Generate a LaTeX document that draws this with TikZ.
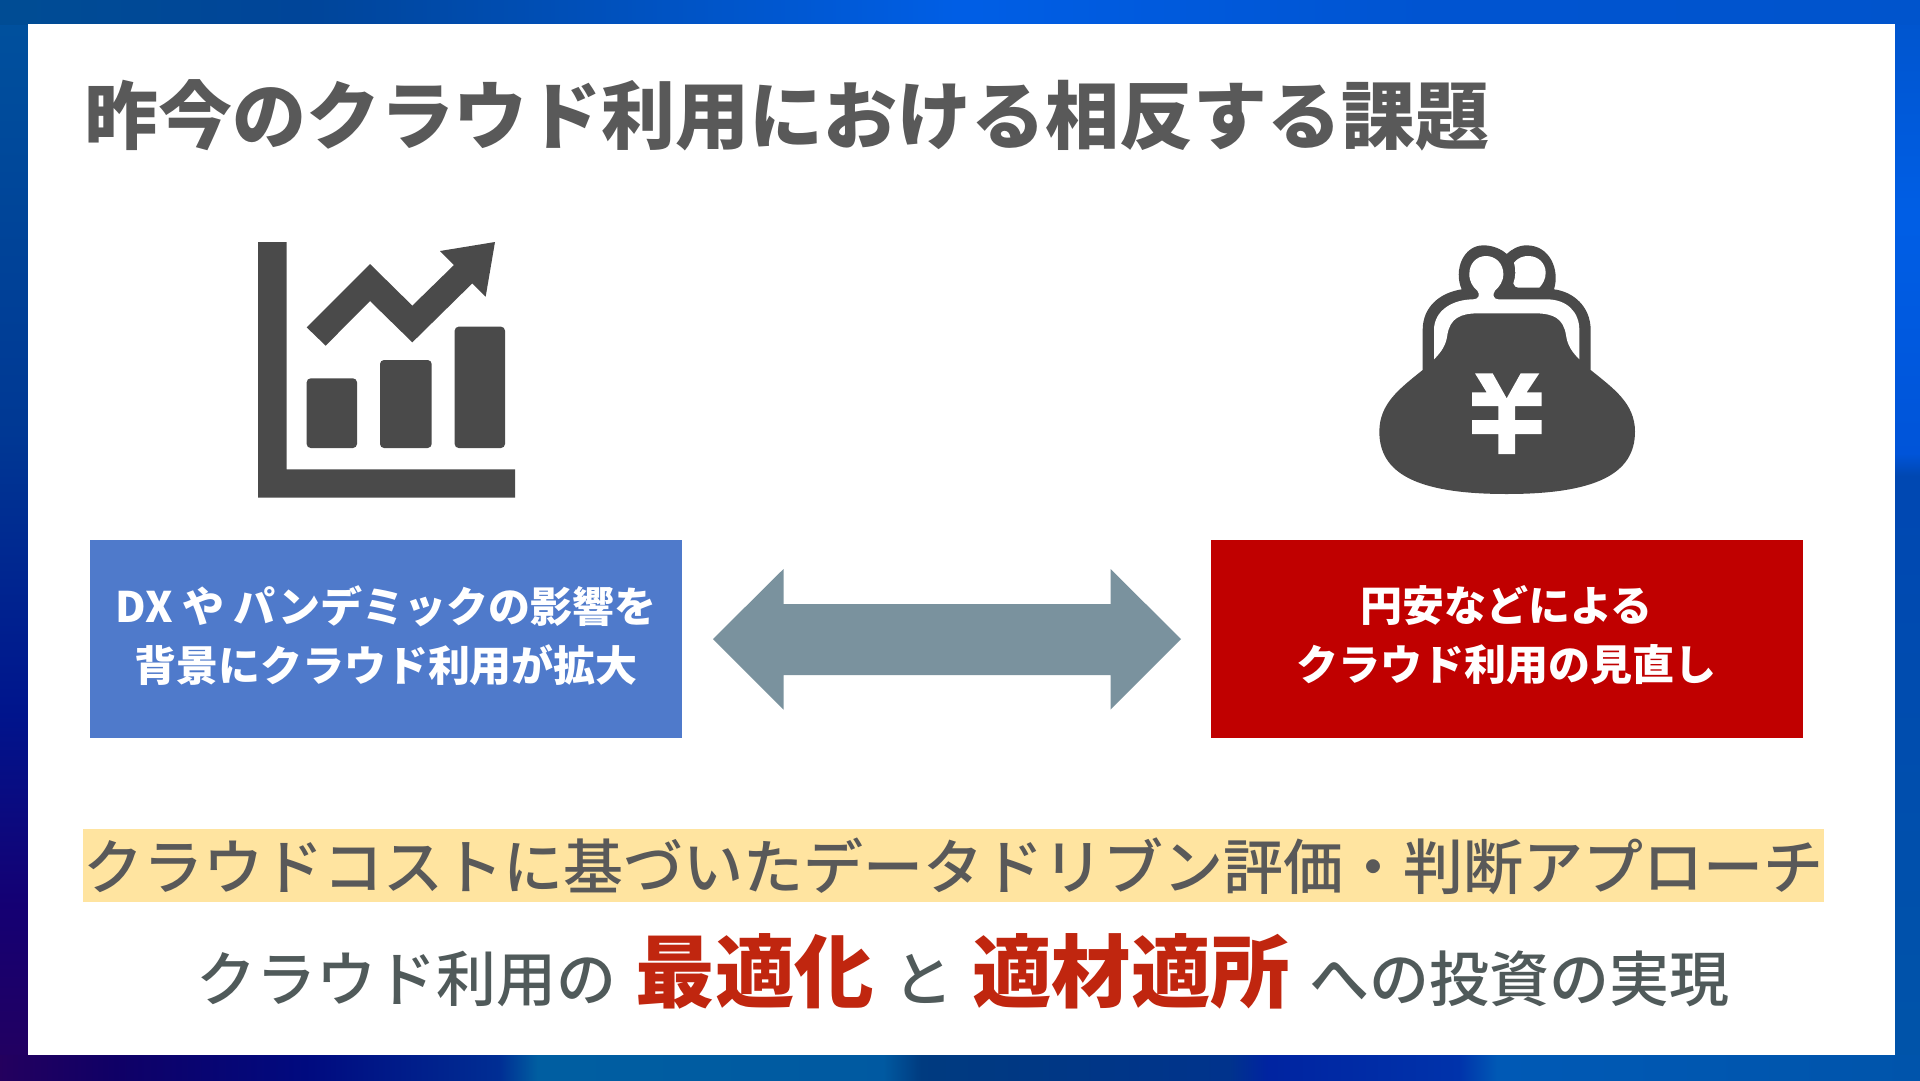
\documentclass[tikz,border=0pt]{standalone}
\usepackage{fontspec}
\setmainfont{Noto Sans CJK JP}
\newfontfamily\medfont{Noto Sans CJK JP Medium}
\definecolor{ink}{HTML}{4A4A4A}
\definecolor{titlegray}{HTML}{595959}
\definecolor{linegray}{HTML}{505A5A}
\definecolor{hotred}{HTML}{C0260F}
\definecolor{boxblue}{HTML}{4F7ACB}
\definecolor{boxred}{HTML}{C00000}
\definecolor{arrowgray}{HTML}{7A929E}
\definecolor{band}{HTML}{FFE4A0}
\pgfdeclarehorizontalshading{topstrip}{100bp}{
 rgb(0bp)=(0,0.30,0.58);
 rgb(25bp)=(0,0.30,0.58);
 rgb(33bp)=(0,0.27,0.60);
 rgb(50bp)=(0,0.37,0.90);
 rgb(62bp)=(0,0.33,0.82);
 rgb(75bp)=(0,0.33,0.80);
 rgb(100bp)=(0,0.33,0.80)}
\pgfdeclarehorizontalshading{botstrip}{100bp}{
 rgb(0bp)=(0.14,0,0.37);
 rgb(25bp)=(0.14,0,0.37);
 rgb(28bp)=(0.06,0,0.40);
 rgb(33bp)=(0,0.04,0.50);
 rgb(38bp)=(0,0.18,0.58);
 rgb(39bp)=(0,0.37,0.63);
 rgb(48bp)=(0,0.35,0.63);
 rgb(49bp)=(0,0.23,0.50);
 rgb(57bp)=(0,0.20,0.55);
 rgb(58bp)=(0,0.14,0.63);
 rgb(63bp)=(0,0.20,0.67);
 rgb(64bp)=(0,0.35,0.71);
 rgb(75bp)=(0,0.33,0.67);
 rgb(100bp)=(0,0.33,0.67)}
\pgfdeclareverticalshading{leftstrip}{100bp}{
 rgb(0bp)=(0.14,0,0.37);
 rgb(25bp)=(0.14,0,0.37);
 rgb(33bp)=(0.08,0,0.45);
 rgb(42bp)=(0,0.08,0.55);
 rgb(55bp)=(0,0.22,0.58);
 rgb(75bp)=(0,0.32,0.62);
 rgb(100bp)=(0,0.32,0.62)}
\pgfdeclareverticalshading{rightstrip}{100bp}{
 rgb(0bp)=(0,0.33,0.66);
 rgb(25bp)=(0,0.33,0.66);
 rgb(53bp)=(0,0.28,0.70);
 rgb(54bp)=(0,0.33,0.85);
 rgb(65bp)=(0,0.37,0.90);
 rgb(75bp)=(0,0.33,0.80);
 rgb(100bp)=(0,0.33,0.80)}
\tikzset{
 x=1pt,y=-1pt,
 icon/.style={fill=ink,draw=none},
 hole/.style={fill=white,draw=none},
 labelbox/.style={minimum width=592pt,minimum height=198pt,inner sep=0pt,text=white,align=center},
 boxtext/.style={inner sep=0pt,text=white,align=center,font=\fontsize{42}{59}\selectfont\bfseries},
 txt/.style={inner sep=0pt,anchor=center},
 zoomicon/.style={shift={#1},scale=1/3}
}
\begin{document}
\begin{tikzpicture}
\useasboundingbox (0,0) rectangle (1920,1080);
% background frame
\shade[shading=leftstrip] (0,0) rectangle (28,1080);
\shade[shading=rightstrip] (1895,0) rectangle (1920,1080);
\shade[shading=topstrip] (0,0) rectangle (1920,24);
\shade[shading=botstrip] (0,1055) rectangle (1920,1080);
\fill[white] (28,24) rectangle (1895,1055);
% title
\node[txt,text=titlegray,font=\fontsize{74}{80}\selectfont\bfseries] (title) at (787,115) {昨今のクラウド利用における相反する課題};
% chart icon
\begin{scope}[zoomicon={(230,220)}]
\fill[icon] (84,66) -- (170,66) -- (170,748) -- (855,748) -- (855,833) -- (84,833) -- cycle;
\fill[icon,rounded corners=4pt] (230,475) rectangle (381,684);
\fill[icon,rounded corners=4pt] (450,420) rectangle (605,684);
\fill[icon,rounded corners=4pt] (674,320) rectangle (825,684);
\fill[icon] (230,322) -- (420,132) -- (547,257) -- (672,135) -- (630,93) -- (795,66) -- (767,230) -- (727,190) -- (547,367) -- (420,243) -- (287,377) -- cycle;
\end{scope}
% purse icon
\begin{scope}[zoomicon={(1350,220)}]
\fill[icon] (218,450) .. controls (150,505) and (88,550) .. (88,635)
  .. controls (88,760) and (200,822) .. (470,822)
  .. controls (740,822) and (855,760) .. (855,635)
  .. controls (855,550) and (790,505) .. (722,450)
  -- (722,330) .. controls (722,260) and (670,215) .. (612,208)
  .. controls (630,150) and (600,76) .. (530,76)
  .. controls (505,76) and (485,88) .. (470,102)
  .. controls (455,88) and (430,76) .. (400,76)
  .. controls (340,76) and (310,150) .. (335,208)
  .. controls (270,218) and (218,260) .. (218,330) -- cycle;
\fill[hole] (252,418) -- (252,330) .. controls (252,270) and (310,238) .. (370,238)
  .. controls (385,238) and (392,225) .. (382,212)
  .. controls (368,200) and (358,185) .. (358,162)
  .. controls (358,130) and (380,108) .. (408,108)
  .. controls (436,108) and (460,130) .. (460,162)
  .. controls (460,185) and (448,200) .. (435,212)
  .. controls (425,225) and (432,238) .. (445,238)
  -- (590,238) .. controls (650,238) and (688,275) .. (688,330) -- (688,418)
  .. controls (665,395) and (652,375) .. (648,345)
  .. controls (640,295) and (610,280) .. (555,280) -- (385,280)
  .. controls (330,280) and (300,295) .. (292,345)
  .. controls (288,375) and (275,395) .. (252,418) -- cycle;
\fill[hole] (492,128) .. controls (505,112) and (520,108) .. (535,108)
  .. controls (565,108) and (587,130) .. (587,158)
  .. controls (587,178) and (578,192) .. (568,203)
  -- (505,203) .. controls (498,203) and (492,198) .. (490,190)
  .. controls (497,170) and (498,150) .. (492,128) -- cycle;
\fill[hole] (375,460) -- (428,460) -- (470,535) -- (512,460) -- (568,460) -- (530,517) -- (575,517) -- (575,558) -- (495,558) -- (495,600) -- (575,600) -- (575,642) -- (495,642) -- (495,702) -- (445,702) -- (445,642) -- (366,642) -- (366,600) -- (445,600) -- (445,558) -- (366,558) -- (366,517) -- (410,517) -- cycle;
\end{scope}
% boxes
\node[labelbox,fill=boxblue] (growth) at (386,639) {};
\node[boxtext] (growthtext) at (386,635.5) {DX や パンデミックの影響を\\背景にクラウド利用が拡大};
\node[labelbox,fill=boxred] (review) at (1506.5,639) {};
\node[boxtext] (reviewtext) at (1506.5,635.5) {円安などによる\\クラウド利用の見直し};
% double arrow
\fill[arrowgray] (713,639) -- (783.5,569) -- (783.5,604) -- (1110.5,604) -- (1110.5,569) -- (1181,639) -- (1110.5,709.5) -- (1110.5,675) -- (783.5,675) -- (783.5,709.5) -- cycle;
% band
\node[txt,fill=band,minimum width=1741pt,minimum height=73pt] (bandbox) at (953.5,865.5) {};
\node[txt,text=titlegray,font=\fontsize{60}{70}\selectfont\medfont] (bandtext) at (953.5,866) {クラウドコストに基づいたデータドリブン評価・判断アプローチ};
% bottom line
\node[txt,text=linegray,font=\fontsize{60}{70}\selectfont\medfont] (bottomline) at (963,971) {クラウド利用の\hspace{19pt}{\fontsize{79.5}{70}\selectfont\rmfamily\bfseries\color{hotred}最適化}\hspace{19pt}と\hspace{19pt}{\fontsize{79.5}{70}\selectfont\rmfamily\bfseries\color{hotred}適材適所}\hspace{19pt}への投資の実現};
\end{tikzpicture}
\end{document}
